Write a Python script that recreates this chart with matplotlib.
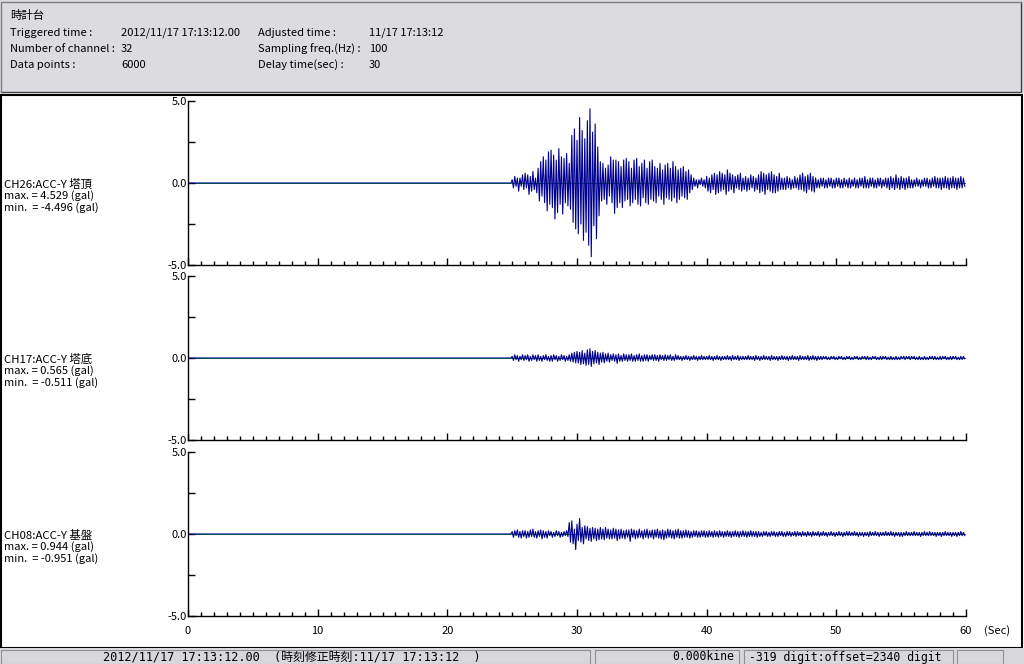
import numpy as np
import matplotlib.pyplot as plt
from matplotlib.patches import Rectangle
from matplotlib.ticker import MultipleLocator

W, H = 1024, 664
jp = ['Noto Sans CJK JP', 'DejaVu Sans']
mono = ['DejaVu Sans Mono', 'Noto Sans CJK JP']

# header info
header_title = "時計台"
header_rows = [("Triggered time :", "2012/11/17 17:13:12.00", "Adjusted time :", "11/17 17:13:12"),
               ("Number of channel :", "32", "Sampling freq.(Hz) :", "100"),
               ("Data points :", "6000", "Delay time(sec) :", "30")]

# channels
ch_names = ["CH26:ACC-Y 塔頂", "CH17:ACC-Y 塔底", "CH08:ACC-Y 基盤"]
ch_max = ["4.529", "0.565", "0.944"]
ch_min = ["-4.496", "-0.511", "-0.951"]

# quiet part before the event (sec, gal)
quiet_t = [0.0, 24.9]
quiet_v = [0.0, 0.0]

# peak readings every 0.1 s from 25.0 s (one row = one second)
t_start = 25.0
dt = 0.1
ch26 = [
    0.2, -0.3, 0.4, -0.2, 0.3, -0.5, 0.3, -0.2, 0.5, -0.4,
    0.6, -0.3, 0.5, -0.7, 0.4, -0.5, 0.7, -0.4, 0.3, -0.6,
    0.9, -1.1, 1.3, -0.8, 1.6, -1.2, 1.4, -1.7, 1.9, -1.3,
    2.0, -1.5, 1.7, -2.2, 1.4, -1.8, 2.1, -1.3, 1.6, -1.9,
    1.5, -1.2, 1.8, -1.4, 1.2, -1.6, 2.9, -2.4, 3.3, -2.8,
    2.6, -3.1, 4.0, -2.5, 3.2, -3.5, 2.7, -3.0, 3.8, -3.8,
    4.529, -4.496, 3.1, -2.6, 3.6, -3.4, 2.2, -2.0, 1.3, -1.1,
    1.2, -1.0, 0.9, -1.3, 1.1, -0.8, 1.6, -1.2, 1.4, -1.85,
    1.4, -1.5, 1.3, -1.2, 1.0, -1.5, 1.4, -1.1, 1.5, -1.0,
    1.3, -1.4, 0.9, -1.2, 1.4, -1.0, 1.5, -1.3, 1.0, -1.4,
    1.2, -0.9, 1.4, -1.2, 0.9, -1.3, 1.3, -1.0, 1.4, -1.1,
    1.0, -1.2, 0.9, -0.8, 1.2, -1.0, 0.8, -1.3, 1.1, -0.9,
    1.2, -1.0, 0.9, -1.1, 1.3, -0.9, 1.0, -1.2, 0.8, -1.0,
    0.9, -0.8, 1.0, -0.9, 0.7, -1.0, 0.8, -0.6, 0.5, -0.4,
    0.3, -0.2, 0.2, -0.3, 0.2, -0.1, 0.3, -0.2, 0.2, -0.3,
    0.4, -0.5, 0.3, -0.6, 0.5, -0.4, 0.6, -0.7, 0.5, -0.6,
    0.7, -0.5, 0.6, -0.4, 0.5, -0.7, 0.8, -0.5, 0.6, -0.4,
    0.5, -0.6, 0.4, -0.3, 0.5, -0.4, 0.6, -0.5, 0.3, -0.4,
    0.4, -0.5, 0.3, -0.4, 0.5, -0.3, 0.4, -0.5, 0.3, -0.4,
    0.5, -0.6, 0.7, -0.5, 0.6, -0.7, 0.5, -0.4, 0.6, -0.5,
    0.7, -0.6, 0.5, -0.6, 0.4, -0.5, 0.6, -0.4, 0.3, -0.4,
    0.3, -0.4, 0.4, -0.3, 0.3, -0.4, 0.2, -0.3, 0.4, -0.3,
    0.3, -0.4, 0.5, -0.4, 0.6, -0.5, 0.4, -0.6, 0.5, -0.4,
    0.6, -0.5, 0.4, -0.55, 0.3, -0.3, 0.2, -0.3, 0.3, -0.2,
    0.3, -0.3, 0.2, -0.3, 0.3, -0.2, 0.3, -0.3, 0.2, -0.3,
    0.3, -0.2, 0.3, -0.3, 0.2, -0.3, 0.3, -0.2, 0.2, -0.3,
    0.3, -0.3, 0.2, -0.2, 0.3, -0.3, 0.2, -0.3, 0.3, -0.2,
    0.3, -0.3, 0.4, -0.3, 0.2, -0.3, 0.3, -0.2, 0.3, -0.3,
    0.2, -0.3, 0.3, -0.2, 0.3, -0.3, 0.2, -0.2, 0.3, -0.3,
    0.3, -0.4, 0.4, -0.3, 0.3, -0.4, 0.5, -0.3, 0.3, -0.4,
    0.4, -0.3, 0.3, -0.4, 0.3, -0.3, 0.4, -0.3, 0.2, -0.3,
    0.2, -0.2, 0.3, -0.2, 0.2, -0.3, 0.2, -0.2, 0.3, -0.2,
    0.3, -0.3, 0.2, -0.3, 0.3, -0.2, 0.4, -0.3, 0.3, -0.3,
    0.3, -0.4, 0.3, -0.3, 0.4, -0.3, 0.3, -0.4, 0.3, -0.3,
    0.4, -0.3, 0.3, -0.4, 0.3, -0.3, 0.4, -0.3, 0.3, -0.2,
]
ch17 = [
    0.1, -0.15, 0.2, -0.1, 0.15, -0.2, 0.1, -0.1, 0.2, -0.15,
    0.15, -0.1, 0.2, -0.2, 0.1, -0.15, 0.2, -0.1, 0.15, -0.2,
    0.2, -0.15, 0.1, -0.2, 0.15, -0.1, 0.2, -0.15, 0.1, -0.2,
    0.15, -0.2, 0.2, -0.1, 0.15, -0.2, 0.1, -0.15, 0.2, -0.1,
    0.15, -0.2, 0.1, -0.15, 0.2, -0.2, 0.3, -0.25, 0.35, -0.3,
    0.4, -0.3, 0.35, -0.4, 0.45, -0.35, 0.3, -0.45, 0.5, -0.4,
    0.565, -0.511, 0.4, -0.35, 0.45, -0.3, 0.35, -0.4, 0.3, -0.25,
    0.35, -0.3, 0.25, -0.2, 0.3, -0.25, 0.2, -0.15, 0.25, -0.2,
    0.2, -0.33, 0.25, -0.2, 0.15, -0.2, 0.25, -0.15, 0.2, -0.2,
    0.2, -0.15, 0.25, -0.2, 0.15, -0.2, 0.2, -0.15, 0.25, -0.2,
    0.15, -0.2, 0.2, -0.15, 0.2, -0.2, 0.15, -0.1, 0.2, -0.15,
    0.2, -0.15, 0.15, -0.2, 0.2, -0.1, 0.15, -0.15, 0.2, -0.15,
    0.15, -0.1, 0.2, -0.15, 0.1, -0.15, 0.2, -0.1, 0.15, -0.1,
    0.1, -0.15, 0.1, -0.1, 0.15, -0.1, 0.1, -0.15, 0.1, -0.1,
    0.15, -0.1, 0.1, -0.15, 0.1, -0.1, 0.15, -0.1, 0.1, -0.1,
    0.1, -0.1, 0.15, -0.1, 0.1, -0.15, 0.1, -0.1, 0.15, -0.1,
    0.1, -0.15, 0.1, -0.1, 0.1, -0.1, 0.15, -0.1, 0.1, -0.15,
    0.15, -0.1, 0.1, -0.1, 0.15, -0.15, 0.1, -0.1, 0.1, -0.1,
    0.1, -0.1, 0.15, -0.1, 0.1, -0.1, 0.1, -0.15, 0.15, -0.1,
    0.1, -0.15, 0.1, -0.1, 0.15, -0.1, 0.1, -0.1, 0.1, -0.15,
    0.15, -0.1, 0.1, -0.1, 0.1, -0.15, 0.1, -0.1, 0.15, -0.1,
    0.1, -0.1, 0.1, -0.15, 0.1, -0.1, 0.15, -0.1, 0.1, -0.1,
    0.1, -0.15, 0.15, -0.1, 0.1, -0.1, 0.1, -0.1, 0.15, -0.15,
    0.1, -0.1, 0.15, -0.1, 0.1, -0.15, 0.1, -0.1, 0.1, -0.1,
    0.1, -0.05, 0.1, -0.1, 0.05, -0.1, 0.1, -0.05, 0.1, -0.1,
    0.05, -0.1, 0.1, -0.05, 0.1, -0.1, 0.05, -0.1, 0.1, -0.05,
    0.1, -0.1, 0.05, -0.1, 0.1, -0.05, 0.1, -0.1, 0.05, -0.1,
    0.1, -0.05, 0.1, -0.1, 0.1, -0.1, 0.05, -0.1, 0.1, -0.05,
    0.1, -0.1, 0.05, -0.1, 0.1, -0.1, 0.1, -0.05, 0.1, -0.1,
    0.05, -0.1, 0.1, -0.1, 0.05, -0.1, 0.1, -0.1, 0.05, -0.1,
    0.1, -0.05, 0.1, -0.1, 0.1, -0.05, 0.1, -0.1, 0.1, -0.05,
    0.1, -0.1, 0.05, -0.1, 0.1, -0.1, 0.05, -0.1, 0.1, -0.1,
    0.05, -0.1, 0.1, -0.05, 0.1, -0.1, 0.1, -0.1, 0.05, -0.1,
    0.1, -0.1, 0.1, -0.05, 0.1, -0.1, 0.05, -0.1, 0.1, -0.1,
    0.1, -0.05, 0.1, -0.1, 0.05, -0.1, 0.1, -0.1, 0.1, -0.05,
]
ch08 = [
    0.15, -0.2, 0.2, -0.1, 0.25, -0.2, 0.15, -0.25, 0.2, -0.15,
    0.2, -0.25, 0.15, -0.2, 0.25, -0.15, 0.3, -0.2, 0.15, -0.25,
    0.2, -0.15, 0.25, -0.3, 0.2, -0.2, 0.15, -0.25, 0.2, -0.1,
    0.15, -0.2, 0.1, -0.15, 0.2, -0.1, 0.15, -0.2, 0.1, -0.15,
    0.15, -0.1, 0.2, -0.15, 0.7, -0.5, 0.8, -0.6, 0.3, -0.951,
    0.6, -0.4, 0.944, -0.5, 0.4, -0.6, 0.5, -0.3, 0.45, -0.4,
    0.35, -0.45, 0.4, -0.3, 0.35, -0.4, 0.3, -0.35, 0.4, -0.3,
    0.3, -0.35, 0.4, -0.25, 0.3, -0.3, 0.25, -0.3, 0.35, -0.25,
    0.3, -0.4, 0.25, -0.3, 0.3, -0.25, 0.2, -0.3, 0.25, -0.2,
    0.25, -0.45, 0.3, -0.2, 0.25, -0.3, 0.2, -0.25, 0.3, -0.2,
    0.2, -0.3, 0.25, -0.2, 0.3, -0.25, 0.2, -0.2, 0.25, -0.3,
    0.25, -0.2, 0.3, -0.25, 0.2, -0.3, 0.25, -0.35, 0.2, -0.25,
    0.3, -0.2, 0.25, -0.25, 0.2, -0.3, 0.25, -0.2, 0.3, -0.25,
    0.2, -0.25, 0.2, -0.2, 0.25, -0.2, 0.2, -0.25, 0.15, -0.2,
    0.2, -0.15, 0.2, -0.2, 0.15, -0.2, 0.2, -0.15, 0.2, -0.2,
    0.15, -0.2, 0.2, -0.15, 0.15, -0.2, 0.2, -0.15, 0.15, -0.2,
    0.2, -0.15, 0.15, -0.2, 0.15, -0.15, 0.2, -0.15, 0.15, -0.2,
    0.15, -0.15, 0.2, -0.15, 0.15, -0.2, 0.15, -0.15, 0.2, -0.15,
    0.15, -0.2, 0.15, -0.15, 0.2, -0.15, 0.15, -0.15, 0.15, -0.2,
    0.15, -0.15, 0.1, -0.15, 0.15, -0.1, 0.15, -0.15, 0.1, -0.15,
    0.15, -0.1, 0.15, -0.15, 0.1, -0.15, 0.15, -0.1, 0.15, -0.15,
    0.1, -0.15, 0.15, -0.1, 0.15, -0.15, 0.1, -0.1, 0.15, -0.15,
    0.15, -0.1, 0.1, -0.15, 0.15, -0.1, 0.1, -0.15, 0.15, -0.1,
    0.1, -0.15, 0.15, -0.1, 0.1, -0.1, 0.15, -0.15, 0.1, -0.1,
    0.15, -0.1, 0.1, -0.15, 0.1, -0.1, 0.15, -0.1, 0.1, -0.15,
    0.1, -0.1, 0.15, -0.1, 0.1, -0.15, 0.1, -0.1, 0.15, -0.1,
    0.15, -0.1, 0.1, -0.1, 0.15, -0.1, 0.1, -0.15, 0.1, -0.1,
    0.1, -0.15, 0.1, -0.1, 0.1, -0.15, 0.15, -0.1, 0.1, -0.1,
    0.15, -0.1, 0.1, -0.15, 0.1, -0.1, 0.1, -0.1, 0.15, -0.1,
    0.1, -0.1, 0.15, -0.1, 0.1, -0.15, 0.1, -0.1, 0.1, -0.15,
    0.1, -0.15, 0.1, -0.1, 0.15, -0.1, 0.1, -0.1, 0.1, -0.1,
    0.15, -0.1, 0.1, -0.1, 0.1, -0.15, 0.1, -0.1, 0.15, -0.1,
    0.1, -0.1, 0.15, -0.1, 0.1, -0.1, 0.1, -0.15, 0.1, -0.1,
    0.1, -0.15, 0.1, -0.1, 0.15, -0.1, 0.1, -0.1, 0.1, -0.15,
    0.1, -0.1, 0.1, -0.15, 0.1, -0.1, 0.15, -0.1, 0.1, -0.1,
]
channels = [ch26, ch17, ch08]

x_ticks = [0, 10, 20, 30, 40, 50, 60]
y_ticks = [-5.0, -2.5, 0.0, 2.5, 5.0]
y_labels = ["-5.0", "", "0.0", "", "5.0"]

status_time = "2012/11/17 17:13:12.00  (時刻修正時刻:11/17 17:13:12  )"
status_vel = "0.000kine"
status_digit = "-319 digit:offset=2340 digit"

fig = plt.figure(figsize=(W / 100, H / 100), dpi=100)
bg = fig.add_axes([0, 0, 1, 1])
bg.set_xlim(0, W)
bg.set_ylim(H, 0)
bg.axis('off')

# header panel
bg.add_patch(Rectangle((0, 0), W, 93, fc='#dcdce0', ec='none'))
bg.plot([1, 1021, 1021], [92, 92, 2], color='#404040', lw=1)
bg.plot([1, 1, 1021], [92, 2, 2], color='#808080', lw=1)
bg.text(10, 16, header_title, family=jp, fontsize=8.2, va='center')
cols = [10, 121, 258, 369]
for i, row in enumerate(header_rows):
    for x, s in zip(cols, row):
        bg.text(x, 33 + 16 * i, s, family=jp, fontsize=8, va='center')

# white chart area
bg.add_patch(Rectangle((0.5, 94.5), 1021, 553, fc='white', ec='black', lw=1.5))

# status bar
bg.add_patch(Rectangle((0, 648), W, 16, fc='#d8d8dc', ec='none'))
for x0, x1 in [(1, 590), (595, 739), (744, 953), (957, 1003)]:
    bg.add_patch(Rectangle((x0, 650), x1 - x0, 14, fc='none', ec='#909090', lw=0.8))
bg.text(103, 657, status_time, family=mono, fontsize=8.6, va='center')
bg.text(734, 657, status_vel, family=mono, fontsize=8.3, va='center', ha='right')
bg.text(749, 657, status_digit, family=mono, fontsize=8.3, va='center')

panels = [(101, 265), (276, 440), (452, 616)]
left, right = 188, 966
for k, (top, bottom) in enumerate(panels):
    ax = fig.add_axes([left / W, 1 - bottom / H, (right - left) / W, (bottom - top) / H])
    ax.set_facecolor('none')
    vals = channels[k]
    t = np.concatenate([quiet_t, t_start + dt * np.arange(len(vals))])
    v = np.concatenate([quiet_v, vals])
    ax.axhline(0, color='#00a000', lw=0.7, zorder=1)
    ax.plot(t, v, color='#000090', lw=0.8, zorder=2)
    ax.set_xlim(0, 60)
    ax.set_ylim(-5, 5)
    for s in ['top', 'right']:
        ax.spines[s].set_visible(False)
    ax.spines['left'].set_linewidth(1)
    ax.spines['bottom'].set_linewidth(1)
    ax.set_yticks(y_ticks)
    ax.set_yticklabels(y_labels, family=jp, fontsize=8)
    ax.set_xticks(x_ticks)
    ax.xaxis.set_minor_locator(MultipleLocator(1))
    ax.tick_params(axis='y', direction='in', length=5, width=1, pad=1)
    ax.tick_params(axis='x', which='major', direction='in', length=5, width=1, pad=7)
    ax.tick_params(axis='x', which='minor', direction='in', length=3, width=1)
    if k == 2:
        ax.set_xticklabels([str(x) for x in x_ticks], family=jp, fontsize=8)
    else:
        ax.set_xticklabels([])
    ymid = (top + bottom) / 2
    bg.text(4, ymid + 1, ch_names[k], family=jp, fontsize=8.2, va='center')
    bg.text(4, ymid + 13, "max. = " + ch_max[k] + " (gal)", family=jp, fontsize=8, va='center')
    bg.text(4, ymid + 25, "min.  = " + ch_min[k] + " (gal)", family=jp, fontsize=8, va='center')

bg.text(984, 631, "(Sec)", family=jp, fontsize=8, va='center')

fig.savefig('out.png', dpi=100)
